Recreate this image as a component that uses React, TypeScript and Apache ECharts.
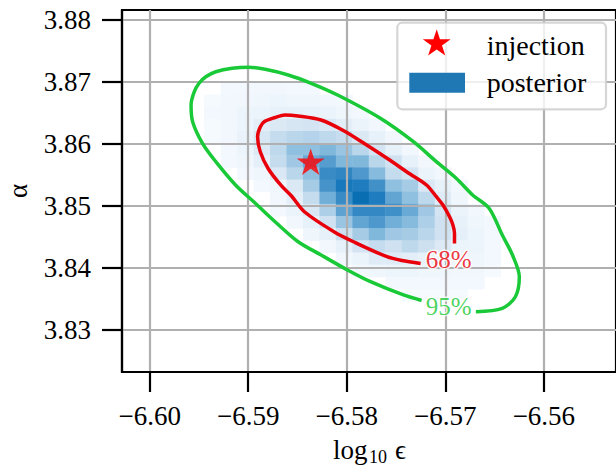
import React, { useEffect, useRef } from 'react';
import * as echarts from 'echarts';

const FONT = 'Liberation Serif, DejaVu Serif, serif';

const xTicks = [-6.6, -6.59, -6.58, -6.57, -6.56];
const yTicks = [3.83, 3.84, 3.85, 3.86, 3.87, 3.88];
const xRange = [-6.602807, -6.552682];
const yRange = [3.823226, 3.881613];

const binXCenters = [
  -6.59531, -6.59364, -6.59196, -6.59029, -6.58862, -6.58695, -6.58528, -6.58361, -6.58194, -6.58027,
  -6.5786, -6.57693, -6.57525, -6.57358, -6.57191, -6.57024, -6.56857, -6.5669, -6.56523, -6.56356,
];
const binYCenters = [
  3.87092, 3.86896, 3.867, 3.86504, 3.86308, 3.86112, 3.85916, 3.8572, 3.85524, 3.85328,
  3.85132, 3.84936, 3.8474, 3.84544, 3.84348, 3.84152, 3.83956, 3.8376, 3.83564, 3.83368,
];
const binWidth = 0.001671;
const binHeight = 0.00196;

// rows top -> bottom, columns left -> right
const counts = [
  [0, 0, 0, 0, 0, 0, 0, 0, 0, 0, 0, 0, 0, 0, 0, 0, 0, 0, 0, 0],
  [0, 0, 2, 2, 3, 3, 2, 2, 0, 0, 0, 0, 0, 0, 0, 0, 0, 0, 0, 0],
  [0, 1, 3, 3, 4, 5, 4, 4, 3, 2, 0, 0, 0, 0, 0, 0, 0, 0, 0, 0],
  [0, 2, 3, 5, 6, 8, 8, 7, 6, 4, 2, 0, 0, 0, 0, 0, 0, 0, 0, 0],
  [0, 1, 3, 5, 10, 14, 17, 18, 15, 10, 6, 3, 0, 0, 0, 0, 0, 0, 0, 0],
  [0, 1, 3, 7, 16, 25, 30, 32, 28, 24, 14, 8, 3, 0, 0, 0, 0, 0, 0, 0],
  [0, 0, 2, 5, 13, 28, 45, 45, 50, 42, 30, 18, 8, 3, 0, 0, 0, 0, 0, 0],
  [0, 0, 2, 4, 9, 25, 40, 58, 65, 50, 50, 30, 20, 8, 3, 0, 0, 0, 0, 0],
  [0, 0, 0, 2, 4, 15, 30, 45, 78, 82, 68, 48, 25, 18, 6, 3, 0, 0, 0, 0],
  [0, 0, 0, 0, 2, 4, 14, 38, 72, 92, 88, 74, 45, 38, 15, 8, 2, 0, 0, 0],
  [0, 0, 0, 0, 0, 3, 10, 25, 55, 78, 100, 88, 60, 45, 28, 12, 4, 0, 0, 0],
  [0, 0, 0, 0, 0, 2, 6, 15, 35, 62, 80, 80, 75, 58, 40, 18, 6, 3, 0, 0],
  [0, 0, 0, 0, 0, 0, 3, 8, 20, 42, 60, 68, 55, 48, 35, 20, 8, 4, 2, 0],
  [0, 0, 0, 0, 0, 0, 0, 4, 8, 22, 38, 50, 40, 38, 30, 20, 9, 5, 2, 0],
  [0, 0, 0, 0, 0, 0, 0, 0, 3, 8, 18, 25, 20, 28, 22, 13, 6, 5, 2, 0],
  [0, 0, 0, 0, 0, 0, 0, 0, 0, 3, 6, 12, 12, 10, 8, 5, 4, 4, 2, 0],
  [0, 0, 0, 0, 0, 0, 0, 0, 0, 0, 2, 4, 5, 5, 4, 4, 3, 3, 1, 0],
  [0, 0, 0, 0, 0, 0, 0, 0, 0, 0, 0, 0, 2, 2, 2, 2, 2, 2, 0, 0],
  [0, 0, 0, 0, 0, 0, 0, 0, 0, 0, 0, 0, 0, 1, 1, 1, 1, 0, 0, 0],
  [0, 0, 0, 0, 0, 0, 0, 0, 0, 0, 0, 0, 0, 0, 0, 0, 0, 0, 0, 0],
];

const contour68 = [
  [-6.56907, 3.84395], [-6.56907, 3.8456], [-6.56923, 3.84694], [-6.56957, 3.84827],
  [-6.57024, 3.85016], [-6.57091, 3.8515], [-6.57191, 3.85339], [-6.57358, 3.85516],
  [-6.57592, 3.85769], [-6.57826, 3.86011], [-6.58026, 3.8621], [-6.58261, 3.86387],
  [-6.58494, 3.86452], [-6.58628, 3.86468], [-6.58728, 3.86427], [-6.58835, 3.86363],
  [-6.58878, 3.86274], [-6.58905, 3.86118], [-6.58878, 3.85876], [-6.58795, 3.85597],
  [-6.58662, 3.85323], [-6.58561, 3.85161], [-6.58427, 3.84903], [-6.58126, 3.84581],
  [-6.57926, 3.84419], [-6.57592, 3.84182], [-6.57442, 3.84121], [-6.57251, 3.84073],
];

const contour95 = [
  [-6.57241, 3.83476], [-6.57425, 3.83565], [-6.57759, 3.83779], [-6.57993, 3.83968],
  [-6.58261, 3.8421], [-6.58494, 3.84424], [-6.58728, 3.84747], [-6.58928, 3.85044],
  [-6.59129, 3.85339], [-6.59329, 3.85715], [-6.59464, 3.86011], [-6.59564, 3.8636],
  [-6.5958, 3.86629], [-6.59547, 3.86844], [-6.59497, 3.86984], [-6.5943, 3.87085],
  [-6.59329, 3.87166], [-6.59163, 3.87221], [-6.58995, 3.87237], [-6.58828, 3.87205],
  [-6.58594, 3.87113], [-6.58361, 3.86979], [-6.58093, 3.8679], [-6.57659, 3.86415],
  [-6.57324, 3.86037], [-6.57091, 3.85715], [-6.5689, 3.85447], [-6.56723, 3.85177],
  [-6.56556, 3.84963], [-6.56422, 3.84532], [-6.56319, 3.8421], [-6.56249, 3.8386],
  [-6.56289, 3.83537], [-6.56422, 3.8335], [-6.5669, 3.83295],
];

const contourLabels = [
  { text: '68%', x: -6.56965, y: 3.84145, color: '#e8000b' },
  { text: '95%', x: -6.56965, y: 3.83387, color: '#1ac938' },
];

const injection = [-6.58366, 3.85692];

const legendLabels = ['injection', 'posterior'];

const blues = [
  '#f7fbff', '#e3eef8', '#d0e2f1', '#bad6eb', '#a0c8e4', '#80b8dc',
  '#62a5d3', '#4a95cb', '#3489c4', '#1a7abe', '#0a6eb3',
];

function starPoints(cx: number, cy: number, R: number): number[][] {
  const pts: number[][] = [];
  for (let i = 0; i < 10; i++) {
    const a = -Math.PI / 2 + (i * Math.PI) / 5;
    const r = i % 2 === 0 ? R : R * 0.381966;
    pts.push([cx + r * Math.cos(a), cy + r * Math.sin(a)]);
  }
  return pts;
}

function starSymbol(): string {
  const pts = starPoints(0, 0, 1);
  return 'path://M' + pts.map((p) => `${p[0].toFixed(4)} ${p[1].toFixed(4)}`).join(' L') + ' Z';
}

function txt(text: string, x: number, y: number, size: number, extra: any = {}) {
  return {
    type: 'text',
    x,
    y,
    z: 21,
    ...extra,
    style: {
      text,
      fontFamily: FONT,
      fontSize: size,
      fill: '#000',
      align: 'left',
      verticalAlign: 'middle',
      textAlign: 'left',
      textVerticalAlign: 'middle',
      ...(extra.style || {}),
    },
  };
}

export default function App() {
  const ref = useRef<HTMLDivElement>(null);

  useEffect(() => {
    if (!ref.current) return;
    const chart = echarts.init(ref.current, null, { renderer: 'svg' });

    const cells: number[][] = [];
    counts.forEach((row, r) =>
      row.forEach((v, c) => {
        if (v > 0) cells.push([binXCenters[c], binYCenters[r], v]);
      })
    );

    const fmtX = (v: number) => (v < 0 ? '\u2212' : '') + Math.abs(v).toFixed(2);

    const option: any = {
      animation: false,
      textStyle: { fontFamily: FONT },
      grid: {
        left: 122,
        top: 10,
        width: 500,
        height: 362,
        show: true,
        borderColor: '#000',
        borderWidth: 2.2,
        backgroundColor: 'transparent',
      },
      visualMap: {
        show: false,
        seriesIndex: 0,
        dimension: 2,
        min: 0,
        max: 100,
        inRange: { color: blues },
      },
      xAxis: {
        type: 'value',
        min: xRange[0],
        max: xRange[1],
        z: 3,
        axisLine: { show: true, lineStyle: { color: '#000', width: 2.2 } },
        axisTick: { show: true, length: 20, customValues: xTicks, lineStyle: { color: '#000', width: 2.2 } },
        axisLabel: {
          customValues: xTicks,
          formatter: fmtX,
          fontFamily: FONT,
          fontSize: 27,
          color: '#000',
          margin: 30,
        },
        splitLine: { show: true, lineStyle: { color: '#b0b0b0', width: 2.2 } },
      },
      yAxis: {
        type: 'value',
        min: yRange[0],
        max: yRange[1],
        z: 3,
        axisLine: { show: true, lineStyle: { color: '#000', width: 2.2 } },
        axisTick: { show: true, length: 20, customValues: yTicks, lineStyle: { color: '#000', width: 2.2 } },
        axisLabel: {
          customValues: yTicks,
          formatter: (v: number) => v.toFixed(2),
          fontFamily: FONT,
          fontSize: 27,
          color: '#000',
          margin: 31,
        },
        splitLine: { show: true, lineStyle: { color: '#b0b0b0', width: 2.2 } },
      },
      series: [
        {
          type: 'custom',
          name: 'posterior',
          z: 1,
          clip: true,
          encode: { x: 0, y: 1 },
          data: cells,
          renderItem: (params: any, api: any) => {
            const x = api.value(0);
            const y = api.value(1);
            const p0 = api.coord([x - binWidth / 2, y + binHeight / 2]);
            const p1 = api.coord([x + binWidth / 2, y - binHeight / 2]);
            return {
              type: 'rect',
              shape: { x: p0[0], y: p0[1], width: p1[0] - p0[0] + 0.5, height: p1[1] - p0[1] + 0.5 },
              style: { fill: api.visual('color') },
            };
          },
        },
        {
          type: 'line',
          name: '95%',
          z: 5,
          data: contour95,
          showSymbol: false,
          smooth: 0.3,
          lineStyle: { color: '#1ac938', width: 3.5 },
        },
        {
          type: 'line',
          name: '68%',
          z: 5,
          data: contour68,
          showSymbol: false,
          smooth: 0.3,
          lineStyle: { color: '#e8000b', width: 3.5 },
        },
        {
          type: 'scatter',
          name: 'contour labels',
          z: 6,
          symbolSize: 0,
          data: contourLabels.map((d) => ({
            value: [d.x, d.y],
            name: d.text,
            label: {
              show: true,
              position: 'inside',
              formatter: d.text,
              color: d.color,
              fontFamily: FONT,
              fontSize: 25,
              textBorderColor: '#fff',
              textBorderWidth: 3,
            },
          })),
        },
        {
          type: 'scatter',
          name: 'injection',
          z: 7,
          symbol: starSymbol(),
          symbolSize: [28, 26.6],
          symbolOffset: [0, -1.4],
          itemStyle: { color: '#ff0000' },
          data: [injection],
        },
      ],
      graphic: [
        {
          type: 'text',
          x: 18,
          y: 191,
          rotation: Math.PI / 2,
          z: 10,
          style: {
            text: 'α',
            fontFamily: FONT,
            fontSize: 27,
            fill: '#000',
            align: 'center',
            verticalAlign: 'middle',
            textAlign: 'center',
            textVerticalAlign: 'middle',
          },
        },
        txt('log', 333, 450, 27),
        txt('10', 369, 457, 18),
        txt('ϵ', 395, 450, 27),
        {
          type: 'rect',
          z: 20,
          shape: { x: 397.3, y: 22.7, width: 208.7, height: 86.6, r: 5 },
          style: { fill: 'rgba(255,255,255,0.8)', stroke: 'rgba(204,204,204,0.8)', lineWidth: 2.2 },
        },
        {
          type: 'polygon',
          z: 21,
          shape: { points: starPoints(436.7, 43.8, 14.6) },
          style: { fill: '#ff0000' },
        },
        {
          type: 'rect',
          z: 21,
          shape: { x: 409.3, y: 72.7, width: 55.7, height: 20 },
          style: { fill: '#1f77b4' },
        },
        txt(legendLabels[0], 486.7, 45.2, 28),
        txt(legendLabels[1], 486.7, 82.6, 28),
      ],
    };

    chart.setOption(option);
    return () => chart.dispose();
  }, []);

  return (
    <div
      ref={ref}
      style={{ position: 'absolute', left: 0, top: 0, width: 616, height: 466, background: '#fff' }}
    />
  );
}
